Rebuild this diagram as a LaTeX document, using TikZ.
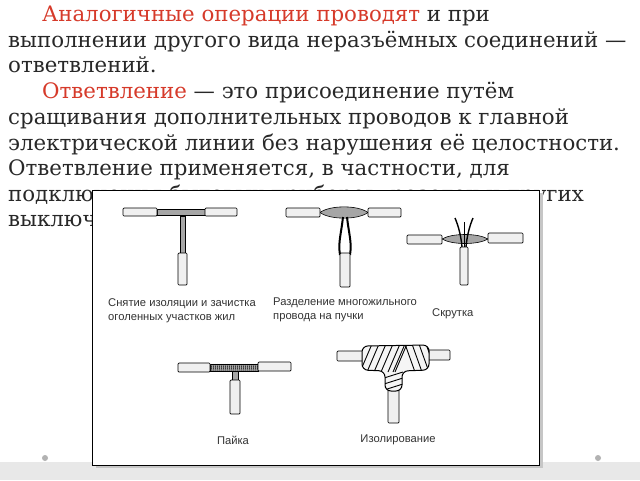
\documentclass[tikz,border=0pt]{standalone}
\usepackage{fontspec}
\setmainfont{DejaVu Serif}
\newfontfamily\lab{Liberation Sans}
\definecolor{redt}{RGB}{214,58,42}
\definecolor{txt}{RGB}{40,40,40}
\begin{document}
\begin{tikzpicture}[x=1pt,y=-1pt,
  tl/.style={anchor=base west,inner sep=0,text=txt,font=\fontsize{21.3}{24}\selectfont},
  ins/.style={draw=black,line width=0.7pt,fill=gray!12,rounded corners=1pt},
  bare/.style={draw=black,line width=0.6pt,fill=gray!70},
  lb/.style={inner sep=0,text=black!80,font=\lab\fontsize{11.2}{14}\selectfont,align=left}]
\useasboundingbox (0,0) rectangle (640,480);
\fill[white] (0,0) rectangle (640,480);
\fill[gray!18] (0,462) rectangle (640,480);
% text
\node[tl] (l1) at (42,21) {\textcolor{redt}{Аналогичные операции проводят} и при};
\node[tl] (l2) at (8,47) {выполнении другого вида неразъёмных соединений —};
\node[tl] (l3) at (8,72) {ответвлений.};
\node[tl] (l4) at (42,98) {\textcolor{redt}{Ответвление} — это присоединение путём};
\node[tl] (l5) at (8,124) {сращивания дополнительных проводов к главной};
\node[tl] (l6) at (8,150) {электрической линии без нарушения её целостности.};
\node[tl] (l7) at (8,175) {Ответвление применяется, в частности, для};
\node[tl] (l8) at (8,201) {подключения бытовых приборов, розеток и других};
\node[tl] (l9) at (8,226) {выключателей.};
% dots
\fill[gray!60] (45,458) circle (3);
\fill[gray!60] (598,458) circle (3);
% frame
\fill[gray!45] (96,193) rectangle (543,468);
\draw[fill=white,line width=0.8pt] (92,190) rectangle (539,465);
% diagram 1
\draw[bare] (157,209) rectangle (205,215);
\draw[ins] (123,208) rectangle (157,216);
\draw[ins] (205,208) rectangle (237,216);
\draw[bare] (180,216) rectangle (185,253);
\draw[ins] (178,253) rectangle (187,285);
% diagram 2
\draw[bare] (320,212.5) .. controls (330,205) and (358,205) .. (368,212.5) .. controls (358,220) and (330,220) .. cycle;
\draw[ins] (286,208) rectangle (320,217);
\draw[ins] (368,208) rectangle (401,217);
\draw[line width=2pt] (343,217) .. controls (341,235) and (338,242) .. (340,255);
\draw[line width=2pt] (347,217) .. controls (349,235) and (352,242) .. (350,255);
\draw[ins] (340,253) rectangle (350,287);
% diagram 3
\draw[bare] (442,239) .. controls (452,233) and (478,233) .. (488,239) .. controls (478,245) and (452,245) .. cycle;
\draw[ins] (407,235) rectangle (442,244);
\draw[ins] (488,233) rectangle (523,243);
\draw[line width=1.4pt] (462,247) .. controls (461,235) and (458,225) .. (455,218);
\draw[line width=1.4pt] (466,247) .. controls (467,235) and (470,225) .. (473,218);
\draw[line width=1pt] (464,247) -- (464,222);
\draw[ins] (460,247) rectangle (468,285);
% labels
\node[lb,anchor=north west] (t1) at (108,298) {Снятие изоляции и зачистка\\оголенных участков жил};
\node[lb,anchor=north west] (t2) at (273,298) {Разделение многожильного\\провода на пучки};
\node[lb,anchor=west] (t3) at (432,314) {Скрутка};
% diagram 4
\draw[bare] (210,364) rectangle (258,371);
\foreach \i in {0,...,23} \draw[line width=0.4pt] (211+2*\i,364) -- (212+2*\i,371);
\draw[ins] (178,363) rectangle (210,372);
\draw[ins] (258,362) rectangle (291,371);
\draw[bare] (232,371) rectangle (238,381);
\draw[ins] (230,380) rectangle (240,414);
\node[lb,anchor=center] (t4) at (233,440) {Пайка};
% diagram 5
\draw[ins] (337,351) rectangle (364,361);
\draw[ins] (428,350) rectangle (450,360);
\draw[ins] (388,388) rectangle (399,423);
\begin{scope}
\path[clip,rounded corners=6pt] (362,346) -- (429,345) -- (429,370) -- (402,371) -- (402,391) -- (385,391) -- (385,371) -- (362,370) -- cycle;
\fill[gray!8] (360,340) rectangle (432,395);
\foreach \i in {0,...,5} \draw[line width=0.9pt] (360+7*\i,372) -- (372+7*\i,344);
\draw[line width=0.9pt] (393,372) -- (405,344);
\foreach \i in {0,...,3} \draw[line width=0.9pt] (405+7*\i,344) -- (415+7*\i,372);
\foreach \i in {0,...,2} \draw[line width=0.9pt] (384,378+6*\i) -- (403,372+6*\i);
\end{scope}
\draw[line width=1pt,rounded corners=6pt] (362,346) -- (429,345) -- (429,370) -- (402,371) -- (402,391) -- (385,391) -- (385,371) -- (362,370) -- cycle;
\node[lb,anchor=center] (t5) at (398,440) {Изолирование};
\end{tikzpicture}
\end{document}
